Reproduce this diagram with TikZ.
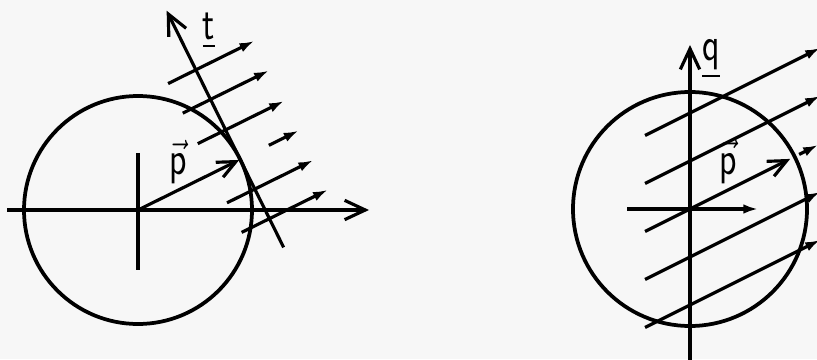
\documentclass[tikz,border=0pt]{standalone}
\usepackage{fix-cm}
\usepackage{amsmath,amssymb}
\usepackage{fontspec}
\usepackage{xcolor}
\usepackage{graphicx}
\usepackage{tikz}
\usetikzlibrary{arrows.meta, calc}

\begin{document}
\begin{tikzpicture}[x=0.03cm,y=0.03cm]
\tikzset{
  ln/.style={line width=2.7pt,draw=black},
  cr/.style={line width=3.2pt,draw=black},
  ax/.style={ln,-{Straight Barb[length=0.62cm,width=0.58cm]}},
  pv/.style={ln,-{Straight Barb[length=0.55cm,width=0.5cm]}},
  ry/.style={ln,-{Latex[length=0.44cm,width=0.29cm]}},
  lb/.style={font=\sffamily\fontsize{41}{46}\selectfont,inner sep=0pt}
}
\useasboundingbox (0,0) rectangle (817,359);
\fill[black!3] (0,0) rectangle (817,359);
\clip (0,0) rectangle (817,359);

% left figure: tangent t at the tip of p
\coordinate (o1) at (138,149);
\draw[cr] (o1) circle (114);
\coordinate (xa) at (7,149);
\coordinate (xb) at (369,149);
\draw[ax] (xa) -- (xb);
\coordinate (ya) at (138,206);
\coordinate (yb) at (138,89);
\draw[ln] (ya) -- (yb);
\begin{scope}[shift={(o1)},rotate=26.3]
  \coordinate (p1) at (113,0);
  \coordinate (ta) at (114,-98);
  \coordinate (tb) at (114,166);
  \draw[pv] (0,0) -- (p1);
  \draw[ax] (ta) -- (tb);
  \draw[ry] (146,0) -- (179,0);
  \foreach \n in {100,67,33,-33,-66}{\draw[ry] (83,\n) -- (179,\n);}
\end{scope}
\node[lb] (tl) at (209,328) {\scalebox{0.75}[1]{\underline{t}}};
\node[lb] (pl1) at (178,197) {\scalebox{0.75}[1]{$\vec{\mathsf{p}}$}};

% right figure: q axis through the centre
\coordinate (o2) at (690,150);
\draw[cr] (o2) circle (117);
\coordinate (qa) at (690,-5);
\coordinate (qb) at (690,314);
\draw[ax] (qa) -- (qb);
\coordinate (ha) at (627,150);
\coordinate (hb) at (758,150);
\draw[ry] (ha) -- (hb);
\coordinate (r0) at (645,127.5);
\draw[ln] (r0) -- (o2);
\foreach \k in {-2,-1,1,2}{\draw[ry] (645,127.5+48*\k) -- (820,215+48*\k);}
\begin{scope}[shift={(o2)},rotate=26.57]
  \coordinate (p2) at (112,0);
  \draw[pv] (0,0) -- (p2);
  \draw[ry] (122,0) -- (143,0);
\end{scope}
\node[lb] (ql) at (711,300) {\scalebox{0.75}[1]{\underline{q}}};
\node[lb] (pl2) at (728,197.5) {\scalebox{0.75}[1]{$\vec{\mathsf{p}}$}};
\end{tikzpicture}
\end{document}
